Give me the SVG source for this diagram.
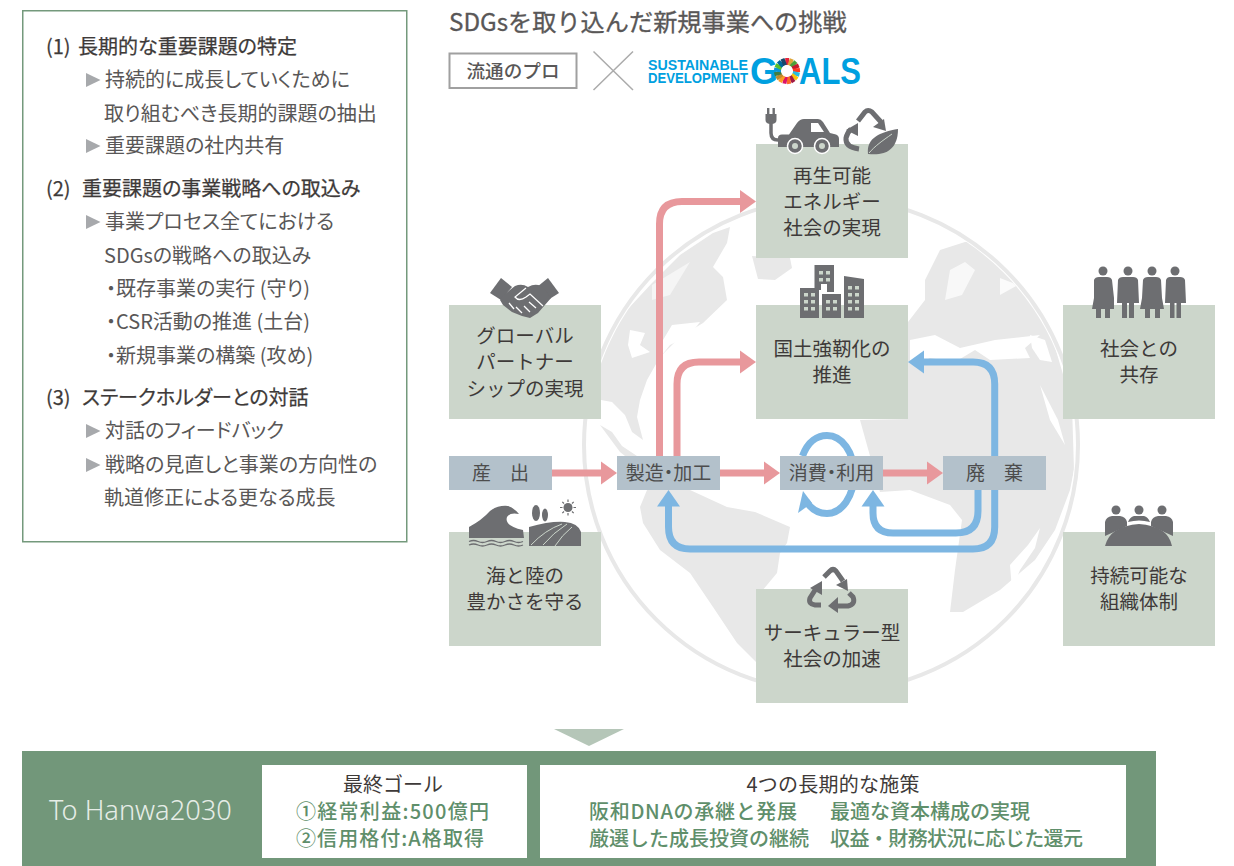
<svg xmlns="http://www.w3.org/2000/svg" width="1234" height="866" viewBox="0 0 1234 866">
<style>
text{font-family:"Noto Sans CJK JP","Noto Sans",sans-serif;fill:#3e3a39}
.h{font-size:20px;font-weight:400;fill:#3e3a39;stroke:#3e3a39;stroke-width:.25px;font-feature-settings:"palt"}
.b{font-size:20px;fill:#595757;font-weight:400;font-feature-settings:"palt"}
.n{font-size:19.5px;text-anchor:middle;fill:#3e3a39}
.p{font-size:19px;text-anchor:middle;fill:#4d4d4d;font-feature-settings:"palt"}
.g{fill:#ccd6cb}
.pb{fill:#b3c1cb}
.ic{fill:#6d6e71}
.ics{fill:none;stroke:#6d6e71}
.pk{fill:none;stroke:#e8989c;stroke-width:7}
.pkh{fill:#e8989c}
.bl{fill:none;stroke:#7db6e2;stroke-width:7}
.blh{fill:#7db6e2}
.land{fill:#e8e8e8}
.gr{font-size:20px;fill:#5f8f6b;font-weight:500}
.tb{fill:#a7a9ac}
.logo{font-family:"Liberation Sans",Arial,sans-serif;font-weight:700;fill:#00a0e0}
</style>
<defs><clipPath id="globe-clip"><circle cx="831" cy="445" r="244"/></clipPath></defs>

<g id="left-panel">
<rect x="22.750" y="10.750" width="384" height="531" fill="#fff" stroke="#74997c" stroke-width="1.500"/>
<text class="h" x="46" y="54">(1) <tspan x="78">長期的な重要課題の特定</tspan></text>
<polygon class="tb" points="86,73 100.500,80 86,87"/>
<text class="b" x="105" y="87">持続的に成長していくために</text>
<text class="b" x="104" y="121">取り組むべき長期的課題の抽出</text>
<polygon class="tb" points="86,139 100.500,146 86,153"/>
<text class="b" x="105" y="153">重要課題の社内共有</text>
<text class="h" x="46" y="196">(2) <tspan x="82">重要課題の事業戦略への取込み</tspan></text>
<polygon class="tb" points="86,215 100.500,222 86,229"/>
<text class="b" x="105" y="229">事業プロセス全てにおける</text>
<text class="b" x="104" y="263">SDGsの戦略への取込み</text>
<text class="b" x="106" y="296">・既存事業の実行 (守り)</text>
<text class="b" x="106" y="329">・CSR活動の推進 (土台)</text>
<text class="b" x="106" y="363">・新規事業の構築 (攻め)</text>
<text class="h" x="46" y="405">(3) <tspan x="82">ステークホルダーとの対話</tspan></text>
<polygon class="tb" points="86,424 100.500,431 86,438"/>
<text class="b" x="105" y="438">対話のフィードバック</text>
<polygon class="tb" points="86,458 100.500,465 86,472"/>
<text class="b" x="105" y="472">戦略の見直しと事業の方向性の</text>
<text class="b" x="104" y="505">軌道修正による更なる成長</text>
</g>

<g id="header">
<text x="449" y="31" font-size="24.2" style="fill:#595757;stroke:#595757;stroke-width:.3px">SDGsを取り込んだ新規事業への挑戦</text>
<rect x="449.500" y="53.500" width="127" height="34.500" fill="#fff" stroke="#a0a0a0" stroke-width="2"/>
<text x="513" y="78" font-size="18.600" font-weight="500" text-anchor="middle" style="fill:#595757">流通のプロ</text>
<path d="M593.500 51.500L633 90M633 51.500L593.500 90" stroke="#ababab" stroke-width="1.500" fill="none"/>
</g>

<g id="sdgs-logo">
<text class="logo" x="648" y="69.500" font-size="14" textLength="100" lengthAdjust="spacingAndGlyphs">SUSTAINABLE</text>
<text class="logo" x="648" y="83" font-size="14" textLength="100" lengthAdjust="spacingAndGlyphs">DEVELOPMENT</text>
<text class="logo" x="750" y="84" font-size="36">G</text>
<g>
<rect x="785.200" y="58" width="4" height="7" fill="#e5243b"/>
<rect x="785.200" y="58" width="4" height="7" fill="#dda63a" transform="rotate(21.2 787 71)"/>
<rect x="785.200" y="58" width="4" height="7" fill="#4c9f38" transform="rotate(42.4 787 71)"/>
<rect x="785.200" y="58" width="4" height="7" fill="#c5192d" transform="rotate(63.5 787 71)"/>
<rect x="785.200" y="58" width="4" height="7" fill="#ff3a21" transform="rotate(84.7 787 71)"/>
<rect x="785.200" y="58" width="4" height="7" fill="#26bde2" transform="rotate(105.9 787 71)"/>
<rect x="785.200" y="58" width="4" height="7" fill="#fcc30b" transform="rotate(127.1 787 71)"/>
<rect x="785.200" y="58" width="4" height="7" fill="#a21942" transform="rotate(148.2 787 71)"/>
<rect x="785.200" y="58" width="4" height="7" fill="#fd6925" transform="rotate(169.4 787 71)"/>
<rect x="785.200" y="58" width="4" height="7" fill="#dd1367" transform="rotate(190.6 787 71)"/>
<rect x="785.200" y="58" width="4" height="7" fill="#fd9d24" transform="rotate(211.8 787 71)"/>
<rect x="785.200" y="58" width="4" height="7" fill="#bf8b2e" transform="rotate(232.9 787 71)"/>
<rect x="785.200" y="58" width="4" height="7" fill="#3f7e44" transform="rotate(254.1 787 71)"/>
<rect x="785.200" y="58" width="4" height="7" fill="#0a97d9" transform="rotate(275.3 787 71)"/>
<rect x="785.200" y="58" width="4" height="7" fill="#56c02b" transform="rotate(296.5 787 71)"/>
<rect x="785.200" y="58" width="4" height="7" fill="#00689d" transform="rotate(317.6 787 71)"/>
<rect x="785.200" y="58" width="4" height="7" fill="#19486a" transform="rotate(338.8 787 71)"/>
</g>
<text class="logo" x="799" y="84" font-size="36" textLength="62" lengthAdjust="spacingAndGlyphs">ALS</text>
</g>

<g id="globe">
<circle cx="831" cy="445" r="247" fill="#fff" stroke="#e8e8e8" stroke-width="4"/>
<g clip-path="url(#globe-clip)">
<path class="land" d="M601 345L627 310L652 283L680 255L713 233L730 227L727 243L713 267L723 277L727 300L703 323L680 337L660 357L647 380L640 400L637 417L643 440L632 432L625 415L612 402L601 400Z"/>
<path class="land" d="M600 425L612 432L622 446L640 458L655 470L640 468L620 452Z"/>
<path class="land" d="M647 490L690 490L727 507L755 512L790 527L787 543L780 553L777 573L757 597L756 640L756 662L737 643L713 607L690 573L660 550L643 523L640 507Z"/>
<path class="land" d="M752 256L790 258L792 268L775 280L758 279Z"/>
<path class="land" d="M908 322L925 300L925 280L940 250L965 242L990 240L1020 270L1050 330L1072 405L1074 470L1070 490L1055 530L1035 560L1000 590L963 612L950 612L955 570L962 520L950 505L910 490L880 492L860 420L908 419Z"/>
<path d="M910 340L935 335L960 348L995 340L1040 335L1025 348L1030 358L990 360L975 350L955 362L930 358L915 365L910 360Z" fill="#fff"/>
<path d="M1030 335L1045 340L1052 362L1040 360L1032 348Z" fill="#fff"/>
<path d="M1040 385L1058 420L1065 445L1050 420Z" fill="#fff"/>
<path d="M1010 565L1028 545L1040 528L1035 548L1020 570L1012 590Z" fill="#fff"/>
<path d="M950 270L965 262L975 270L962 295L945 300Z" fill="#fff" opacity=".7"/>
<path d="M1000 278L1018 285L1000 295Z" fill="#fff" opacity=".8"/>
<path d="M630 330L645 333L640 345L650 352L632 358L628 345Z" fill="#fff"/>
<path d="M672 325L700 322L690 335L670 345L662 355L660 345Z" fill="#fff"/>
<path d="M652 285L690 262L670 295L652 300Z" fill="#fff" opacity=".55"/>
<path d="M730 490L738 492L735 498L727 497Z" fill="#fff"/>
</g>
</g>

<g id="connectors">
<path class="pk" d="M552 473H602"/><polygon class="pkh" points="601,461.500 617,473 601,484.500"/>
<path class="pk" d="M720 473H765"/><polygon class="pkh" points="764,461.500 780,473 764,484.500"/>
<path class="pk" d="M883 473H928"/><polygon class="pkh" points="927,461.500 943,473 927,484.500"/>
<path class="pk" d="M659.500 456V224Q659.500 201.500 682 201.500H741"/><polygon class="pkh" points="740,190 756,201.500 740,213"/>
<path class="pk" d="M677 456V384Q677 362 699 362H741"/><polygon class="pkh" points="740,350.500 756,362 740,373.500"/>
<path class="bl" d="M923 362H973Q994.700 362 994.700 384V527Q994.700 549 973 549H690Q668.500 549 668.500 527V505"/>
<polygon class="blh" points="924,350.500 908,362 924,373.500"/>
<polygon class="blh" points="657,506.500 668.500,490 680,506.500"/>
<path class="bl" d="M978 490V511Q978 533 956 533H893Q873 533 873 513V505"/>
<polygon class="blh" points="861.500,506.500 873,490 884.500,506.500"/>
<path class="bl" d="M802.500 456C808 441 818 435.500 827 435.500C842 435.500 854 452 854 474C854 496 842 513.500 827 513.500C818 513.500 811 509 806 501"/>
<polygon class="blh" points="803,491 812,503 798,513"/>
</g>

<g id="node-renewable">
<rect class="g" x="756" y="144" width="152" height="114"/>
<g>
<rect class="ic" x="767" y="108" width="2.400" height="7"/><rect class="ic" x="772.500" y="108" width="2.400" height="7"/>
<path class="ic" d="M765.500 114H776.500V120Q776.500 124 771 124Q765.500 124 765.500 120Z"/>
<path class="ics" stroke-width="3.500" d="M771 123V133Q771 140 778 140H784"/>
<path class="ic" d="M778 147V138Q778 134.500 782 134.500H789L797 123Q800 119 804 119H818Q821 119 823 122L830 133L836 134.500Q839 135.500 839 139V147Z"/>
<path d="M811 123H818L824 132H811Z" fill="#fff"/>
<circle cx="795" cy="146" r="7.500" class="ic" stroke="#fff" stroke-width="1.500"/><circle cx="795" cy="146" r="3" fill="#ccd6cb"/>
<circle cx="822" cy="146" r="7.500" class="ic" stroke="#fff" stroke-width="1.500"/><circle cx="822" cy="146" r="3" fill="#ccd6cb"/>
<path class="ics" stroke-width="5" d="M858 121L865 112Q868 109 872 112L881 122"/>
<polygon class="ic" points="886,131 873,127 884,119"/>
<path class="ics" stroke-width="5" d="M859 149Q845 147 846 138Q847 133 851 129"/>
<polygon class="ic" points="858,123 858,136 846,130"/>
<path class="ic" d="M898 129C880 132 866 138 868 154C885 156 898 150 898 129Z"/>
<path d="M869 153C875 146 882 141 892 134" stroke="#ccd6cb" stroke-width="1" fill="none"/>
</g>
<text class="n" x="832" y="183">再生可能</text>
<text class="n" x="832" y="209">エネルギー</text>
<text class="n" x="832" y="235">社会の実現</text>
</g>

<g id="node-global-partnership">
<rect class="g" x="449" y="305" width="152" height="114"/>
<g>
<polygon class="ic" points="490,293 501,278 512,287 501,300"/>
<polygon class="ic" points="559,293 548,278 537,287 548,300"/>
<path class="ic" d="M505 294L515 286Q522 283 528 287Q535 283 541 286L545 290L551 298L538 313L530 318L522 316L512 312L503 305L500 300Z"/>
<path d="M526 288L515 297Q519 302 526 297L530 294L543 306M536 308L529 302M530 312L524 306M522 313L516 307M514 309L509 303" stroke="#fff" stroke-width="1.300" fill="none"/>
</g>
<text class="n" x="525" y="343">グローバル</text>
<text class="n" x="525" y="369">パートナー</text>
<text class="n" x="525" y="396">シップの実現</text>
</g>

<g id="node-resilience">
<rect class="g" x="756" y="305" width="152" height="114"/>
<g>
<path class="ic" d="M800 288H819V318H800Z"/>
<path class="ic" d="M814.500 265H834V292H827V284H821V290H814.500Z"/>
<path class="ic" d="M822 294H841V318H822Z"/>
<path class="ic" d="M844 276L864 279V318H844Z"/>
<g fill="#ccd6cb">
<rect x="804" y="293" width="4" height="3.500"/><rect x="811" y="293" width="4" height="3.500"/>
<rect x="804" y="300" width="4" height="3.500"/><rect x="811" y="300" width="4" height="3.500"/>
<rect x="804" y="307" width="4" height="3.500"/><rect x="811" y="307" width="4" height="3.500"/>
<rect x="819" y="271" width="4" height="3.500"/><rect x="826" y="271" width="4" height="3.500"/>
<rect x="819" y="278" width="4" height="3.500"/><rect x="826" y="278" width="4" height="3.500"/>
<rect x="826" y="300" width="4" height="3.500"/><rect x="833" y="300" width="4" height="3.500"/>
<rect x="826" y="307" width="4" height="3.500"/><rect x="833" y="307" width="4" height="3.500"/>
<rect x="848" y="286" width="4" height="3.500"/><rect x="855" y="286" width="4" height="3.500"/>
<rect x="848" y="293" width="4" height="3.500"/><rect x="855" y="293" width="4" height="3.500"/>
<rect x="848" y="300" width="4" height="3.500"/><rect x="855" y="300" width="4" height="3.500"/>
<rect x="848" y="307" width="4" height="3.500"/><rect x="855" y="307" width="4" height="3.500"/>
</g>
</g>
<text class="n" x="832" y="356">国土強靭化の</text>
<text class="n" x="832" y="382">推進</text>
</g>

<g id="node-society">
<rect class="g" x="1063" y="305" width="152" height="114"/>
<g>
<circle class="ic" cx="1103" cy="271" r="4.500"/><circle class="ic" cx="1128" cy="271" r="4.500"/><circle class="ic" cx="1152" cy="271" r="4.500"/><circle class="ic" cx="1175" cy="271" r="4.500"/>
<path class="ic" d="M1094 280Q1095 277 1099 277H1107Q1111 277 1112 280L1114 298V309H1110V318H1105V309H1101V318H1096V309H1092L1094 298Z"/>
<path class="ic" d="M1118 280Q1119 277 1123 277H1133Q1137 277 1138 280L1139 303H1134V318H1129V303H1127V318H1122V303H1117Z"/>
<path class="ic" d="M1143 280Q1144 277 1148 277H1156Q1160 277 1161 280L1162 298L1164 309H1160V318H1155V309H1150V318H1145V309H1140L1142 298Z"/>
<path class="ic" d="M1166 280Q1167 277 1170 277H1180Q1184 277 1185 280L1186 303H1181V318H1176.500V303H1174.500V318H1170V303H1165Z"/>
</g>
<text class="n" x="1139" y="356">社会との</text>
<text class="n" x="1139" y="382">共存</text>
</g>

<g id="node-sea-land">
<rect class="g" x="449" y="532" width="152" height="114"/>
<g>
<path class="ic" d="M469 538V527Q482 520 490 511Q498 505 508 506Q514 508 519 514Q510 512 507 517Q504 526 523 530L524 538Z"/>
<path d="M469 541.500q4.500 -2 9 0t9 0t9 0t9 0t9 0t9 0M469 545q4.500 -2 9 0t9 0t9 0t9 0t9 0t9 0" stroke="#6d6e71" stroke-width="1.300" fill="none"/>
<ellipse class="ic" cx="536" cy="513" rx="4" ry="8"/><ellipse class="ic" cx="545" cy="515" rx="3" ry="6.500"/>
<path class="ic" d="M529 527Q550 521 565 522Q578 523 581 532V546H529Z"/>
<path d="M531 545Q545 530 562 524M543 545Q553 533 567 524M555 546Q562 535 572 527" stroke="#ccd6cb" stroke-width="1" fill="none"/>
<circle class="ic" cx="568" cy="507.500" r="4.500"/>
<path d="M568 499.500V502M568 513V515.500M560 507.500H562.500M573.500 507.500H576M562.300 501.800L564 503.500M572 511.500L573.700 513.200M573.700 501.800L572 503.500M564 511.500L562.300 513.200" stroke="#6d6e71" stroke-width="1.200"/>
</g>
<text class="n" x="525" y="583">海と陸の</text>
<text class="n" x="525" y="609">豊かさを守る</text>
</g>

<g id="node-circular">
<rect class="g" x="756" y="589" width="152" height="114"/>
<g>
<path class="ics" stroke-width="5" d="M824 577L830 571Q833 568 836 571L843 581"/>
<polygon class="ic" points="848,591 836,585 847,579"/>
<path class="ics" stroke-width="5" d="M821 605H815Q808 604 810 598L817 587"/>
<polygon class="ic" points="822,581 822,595 810,588"/>
<path class="ics" stroke-width="5" d="M832 606H848Q856 604 853 597L849 593"/>
<polygon class="ic" points="828,606 838,597 838,613"/>
</g>
<text class="n" x="832" y="640">サーキュラー型</text>
<text class="n" x="832" y="666">社会の加速</text>
</g>

<g id="node-organization">
<rect class="g" x="1063" y="532" width="152" height="114"/>
<g>
<circle class="ic" cx="1116" cy="510" r="4.500"/><circle class="ic" cx="1139" cy="510" r="4.500"/><circle class="ic" cx="1162" cy="510" r="4.500"/>
<path class="ic" d="M1105 535V522Q1106 517 1112 516H1120Q1126 517 1127 522V526L1105 536Z"/>
<path class="ic" d="M1128 522Q1130 517 1134 516H1144Q1148 517 1150 522Q1139 519 1128 522Z"/>
<path class="ic" d="M1151 526V522Q1152 517 1158 516H1166Q1172 517 1173 522V536Z"/>
<path class="ic" d="M1105 546Q1110 526 1139 524Q1168 526 1172 546Z"/>
</g>
<text class="n" x="1139" y="583">持続可能な</text>
<text class="n" x="1139" y="609">組織体制</text>
</g>

<g id="process-produce">
<rect class="pb" x="449" y="456" width="103" height="34"/>
<text class="p" x="500.500" y="480">産　出</text>
</g>
<g id="process-manufacture">
<rect class="pb" x="617" y="456" width="103" height="34"/>
<text class="p" x="668.500" y="480">製造・加工</text>
</g>
<g id="process-consume">
<rect class="pb" x="780" y="456" width="103" height="34"/>
<text class="p" x="831.500" y="480">消費・利用</text>
</g>
<g id="process-dispose">
<rect class="pb" x="943" y="456" width="103" height="34"/>
<text class="p" x="994.500" y="480">廃　棄</text>
</g>

<polygon id="down-arrow" points="554,729 624,729 589,746" fill="#b5c6b8"/>

<g id="goal-band">
<rect x="22" y="751" width="1134" height="115" fill="#72977a"/>
<text x="49" y="820" font-size="27.2" style="font-family:'Noto Sans',sans-serif;fill:#e6ede7;font-weight:300">To Hanwa2030</text>
<rect x="262" y="765" width="265" height="93" fill="#fff"/>
<text x="393" y="792" font-size="20" text-anchor="middle">最終ゴール</text>
<text class="gr" x="296" y="819" textLength="193">①経常利益:500億円</text>
<text class="gr" x="296" y="846" textLength="188">②信用格付:A格取得</text>
<rect x="540" y="765" width="586" height="93" fill="#fff"/>
<text x="833" y="792" font-size="20" text-anchor="middle" textLength="173">4つの長期的な施策</text>
<text class="gr" x="589" y="819" textLength="208">阪和DNAの承継と発展</text>
<text class="gr" x="830" y="819">最適な資本構成の実現</text>
<text class="gr" x="589" y="846">厳選した成長投資の継続</text>
<text class="gr" x="830" y="846" textLength="253">収益・財務状況に応じた還元</text>
</g>
</svg>
